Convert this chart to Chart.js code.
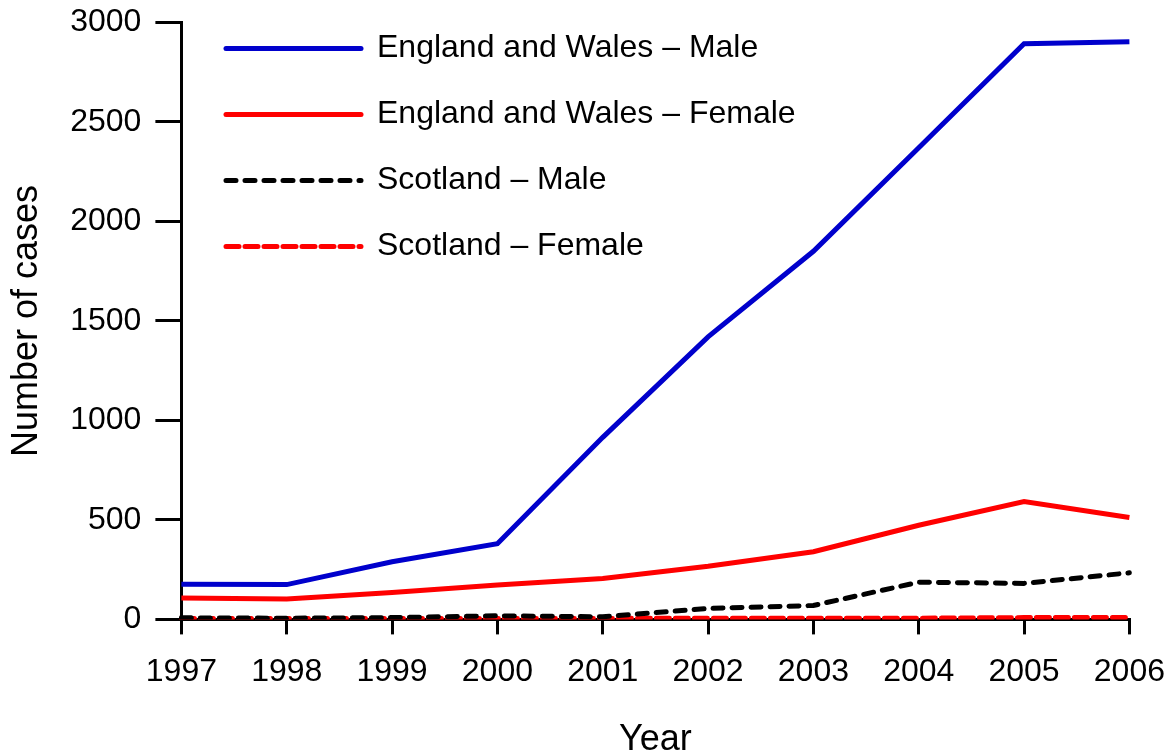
<!DOCTYPE html>
<html>
<head>
<meta charset="utf-8">
<script src="https://cdn.jsdelivr.net/npm/chart.js@4"></script>
<style>
  html, body { margin: 0; padding: 0; background: #fff; overflow: hidden; }
  #wrap { width: 1174px; height: 762px; }
</style>
</head>
<body>
<div id="wrap"><canvas id="line-chart"></canvas></div>
<script>
// values
var years = ["1997", "1998", "1999", "2000", "2001", "2002", "2003", "2004", "2005", "2006"];
var ewMale = [177, 175, 290, 380, 915, 1420, 1850, 2370, 2893, 2903];
var ewFemale = [107, 102, 135, 173, 206, 267, 340, 473, 592, 512];
var scotMale = [8, 6, 9, 18, 13, 55, 70, 187, 181, 234];
var scotFemale = [4, 4, 4, 4, 5, 6, 6, 6, 9, 9];

Chart.defaults.font.family = "'Liberation Sans', Arial, sans-serif";
Chart.defaults.color = "#000";

// nudge the legend into the upper left corner of the plot
var legendShift = {
	id: 'legendShift',
	afterLayout: function(chart) {
		var lg = chart.legend;
		var dx = 226 - (chart.chartArea.left + 34);
		var dy = 21 - chart.chartArea.top;
		lg.left += dx; lg.right += dx;
		lg.top += dy; lg.bottom += dy;
	}
};

new Chart(document.getElementById("line-chart"), {
	type: 'line',
	data: {
		labels: years,
		datasets: [
			{
				label: "England and Wales \u2013 Male",
				data: ewMale,
				borderColor: "#0000CC",
				borderWidth: 5
			}, {
				label: "England and Wales \u2013 Female",
				data: ewFemale,
				borderColor: "#FF0000",
				borderWidth: 5
			}, {
				label: "Scotland \u2013 Male",
				data: scotMale,
				borderColor: "#000000",
				borderWidth: 5,
				borderDash: [10, 9],
				borderCapStyle: 'round'
			}, {
				label: "Scotland \u2013 Female",
				data: scotFemale,
				borderColor: "#FF0000",
				borderWidth: 5,
				borderDash: [13, 6],
				borderCapStyle: 'round'
			}
		]
	},
	options: {
		responsive: true,
		maintainAspectRatio: false,
		animation: false,
		elements: {
			point: { radius: 0 },
			line: { tension: 0, fill: false }
		},
		layout: {
			padding: { left: 0, right: 0, top: 0, bottom: 0 }
		},
		plugins: {
			tooltip: { enabled: false },
			legend: {
				position: 'chartArea',
				align: 'start',
				labels: {
					usePointStyle: true,
					pointStyle: 'line',
					pointStyleWidth: 135,
					padding: 34,
					color: "#000",
					font: { size: 32 },
					generateLabels: function(chart) {
						var items = Chart.defaults.plugins.legend.labels.generateLabels(chart);
						items.forEach(function(it) {
							var ds = chart.data.datasets[it.datasetIndex];
							it.lineDash = ds.borderDash || [];
							it.lineCap = ds.borderCapStyle || 'round';
							it.lineWidth = ds.borderWidth;
							it.strokeStyle = ds.borderColor;
						});
						return items;
					}
				}
			}
		},
		scales: {
			x: {
				offset: false,
				border: { display: true, color: "#000", width: 3 },
				grid: { drawOnChartArea: false, color: "#000", lineWidth: 3, tickLength: 15 },
				ticks: { font: { size: 32, lineHeight: 1.825 }, padding: 9, maxRotation: 0, autoSkip: false },
				title: {
					display: true,
					text: "Year",
					font: { size: 36 },
					padding: { top: 8, bottom: 0 }
				}
			},
			y: {
				min: 0,
				max: 3000,
				border: { display: true, color: "#000", width: 3 },
				grid: { drawOnChartArea: false, color: "#000", lineWidth: 3, tickLength: 26 },
				ticks: { stepSize: 500, font: { size: 32, lineHeight: 0.53 }, padding: 14, format: { useGrouping: false } },
				title: {
					display: true,
					text: "Number of cases",
					font: { size: 36 },
					padding: { top: 5, bottom: 8 }
				}
			}
		}
	},
	plugins: [legendShift]
});
</script>
</body>
</html>
